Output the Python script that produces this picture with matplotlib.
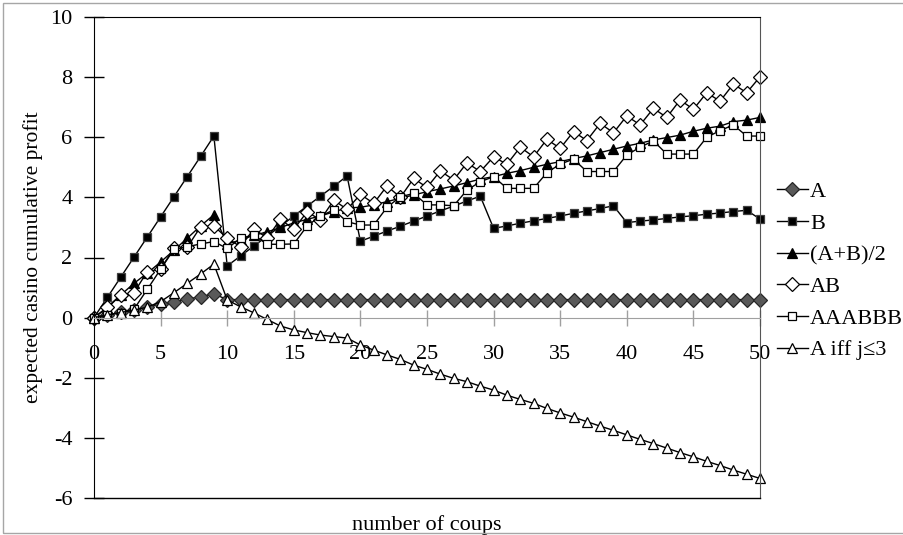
import numpy as np
import matplotlib
matplotlib.use("Agg")
import matplotlib.pyplot as plt
from matplotlib.patches import Rectangle

plt.rcParams["font.family"] = ["Liberation Serif", "DejaVu Serif"]
plt.rcParams["axes.unicode_minus"] = False

# ─── Data ─────────────────────────────────────────────────────────────────────
coups = list(range(51))

series_a = [0, 0.09, 0.18, 0.26, 0.35, 0.44, 0.53, 0.61, 0.70, 0.79,
            0.6, 0.6, 0.6, 0.6, 0.6, 0.6, 0.6, 0.6, 0.6, 0.6,
            0.6, 0.6, 0.6, 0.6, 0.6, 0.6, 0.6, 0.6, 0.6, 0.6,
            0.6, 0.6, 0.6, 0.6, 0.6, 0.6, 0.6, 0.6, 0.6, 0.6,
            0.6, 0.6, 0.6, 0.6, 0.6, 0.6, 0.6, 0.6, 0.6, 0.6, 0.6]

series_b = [0, 0.67, 1.34, 2.01, 2.68, 3.35, 4.02, 4.69, 5.36, 6.04,
            1.72, 2.05, 2.38, 2.71, 3.04, 3.38, 3.71, 4.04, 4.37, 4.71,
            2.54, 2.71, 2.88, 3.04, 3.21, 3.38, 3.55, 3.71, 3.88, 4.04,
            2.97, 3.05, 3.14, 3.22, 3.30, 3.38, 3.47, 3.55, 3.63, 3.72,
            3.16, 3.21, 3.25, 3.30, 3.35, 3.39, 3.44, 3.48, 3.53, 3.57, 3.28]

series_avg = [0, 0.32, 0.75, 1.14, 1.48, 1.85, 2.24, 2.64, 3.05, 3.42,
              2.45, 2.58, 2.74, 2.85, 3.00, 3.15, 3.27, 3.38, 3.52, 3.65,
              3.67, 3.75, 3.86, 3.97, 4.08, 4.19, 4.28, 4.38, 4.49, 4.61,
              4.69, 4.80, 4.89, 5.00, 5.10, 5.19, 5.29, 5.38, 5.49, 5.60,
              5.71, 5.80, 5.91, 5.99, 6.07, 6.20, 6.30, 6.37, 6.52, 6.57, 6.66]

series_ab = [0, 0.35, 0.75, 0.83, 1.53, 1.62, 2.30, 2.34, 3.02, 3.05,
             2.64, 2.36, 2.95, 2.65, 3.27, 2.94, 3.52, 3.25, 3.91, 3.60,
             4.10, 3.80, 4.38, 4.00, 4.63, 4.33, 4.88, 4.58, 5.15, 4.86,
             5.35, 5.10, 5.67, 5.35, 5.93, 5.63, 6.19, 5.89, 6.46, 6.15,
             6.71, 6.41, 6.96, 6.66, 7.24, 6.93, 7.48, 7.20, 7.77, 7.48, 8.01]

series_aaabbb = [0, 0.08, 0.17, 0.28, 0.94, 1.61, 2.27, 2.36, 2.45, 2.53,
                 2.30, 2.64, 2.75, 2.44, 2.44, 2.45, 3.05, 3.38, 3.58, 3.19,
                 3.08, 3.08, 3.67, 4.02, 4.13, 3.75, 3.75, 3.72, 4.24, 4.52,
                 4.69, 4.30, 4.30, 4.30, 4.82, 5.11, 5.27, 4.86, 4.86, 4.86,
                 5.41, 5.67, 5.88, 5.44, 5.44, 5.44, 6.00, 6.22, 6.41, 6.04, 6.04]

series_iff = [0, 0.09, 0.17, 0.25, 0.35, 0.53, 0.83, 1.14, 1.45, 1.78,
              0.59, 0.36, 0.16, -0.06, -0.28, -0.41, -0.50, -0.58, -0.63, -0.68,
              -0.91, -1.08, -1.24, -1.39, -1.58, -1.72, -1.88, -2.02, -2.13, -2.28,
              -2.41, -2.58, -2.72, -2.85, -3.02, -3.17, -3.31, -3.46, -3.61, -3.75,
              -3.90, -4.05, -4.19, -4.34, -4.49, -4.63, -4.78, -4.92, -5.07, -5.21, -5.35]

labels = ["A", "B", "(A+B)/2", "AB", "AAABBB", "A iff j\u22643"]

# ─── Figure ───────────────────────────────────────────────────────────────────
fig = plt.figure(figsize=(9.04, 5.35), dpi=100)
fig.patches.append(Rectangle((3 / 904, 0.004), 1.2, 1 - 3 / 535 - 0.004,
                             transform=fig.transFigure, fill=False,
                             edgecolor="#a6a6a6", linewidth=1))
ax = fig.add_axes([94 / 904, 1 - 498 / 535, (760 - 94) / 904, (498 - 17) / 535])

styles = [
    dict(marker="D", ms=7.5, mfc="#595959", mec="#262626"),
    dict(marker="s", ms=5.5, mfc="black", mec="#404040"),
    dict(marker="^", ms=7, mfc="black", mec="black"),
    dict(marker="D", ms=7, mfc="white", mec="black"),
    dict(marker="s", ms=6, mfc="white", mec="black"),
    dict(marker="^", ms=7, mfc="white", mec="black"),
]
data = [series_a, series_b, series_avg, series_ab, series_aaabbb, series_iff]
for vals, lab, st in zip(data, labels, styles):
    ax.plot(coups, vals, color="black", lw=1, mew=0.9, label=lab,
            clip_on=False, **st)

ax.set_xlim(0, 50)
ax.set_ylim(-6, 10)
ax.set_yticks(np.arange(-6, 11, 2))
ax.set_xticks(np.arange(0, 51, 5))

# frame: black box, x axis drawn through y = 0
for s in ["top", "left"]:
    ax.spines[s].set_color("black")
ax.spines["right"].set_color("#555555")
ax.spines["bottom"].set_position(("data", 0))
ax.spines["bottom"].set_color("#a0a0a0")
ax.plot([0, 50], [-6, -6], color="black", lw=1, clip_on=False, zorder=3)

ax.tick_params(axis="y", direction="inout", length=14, width=1, pad=8.5,
               labelsize=16, colors="black")
ax.tick_params(axis="x", direction="inout", length=12, width=1, pad=14,
               labelsize=16, color="#a0a0a0", labelcolor="black")

ax.set_xlabel("number of coups", fontsize=16)
ax.xaxis.set_label_coords(0.5, -0.035)
ax.set_ylabel("expected casino cumulative profit", fontsize=15.5, labelpad=5)

ax.legend(loc="center left", bbox_to_anchor=(1.005, 0.472), frameon=False,
          fontsize=16, handlelength=1.4, handletextpad=0.1, labelspacing=0.5,
          borderaxespad=0.2)

fig.savefig("out.png", dpi=100)
